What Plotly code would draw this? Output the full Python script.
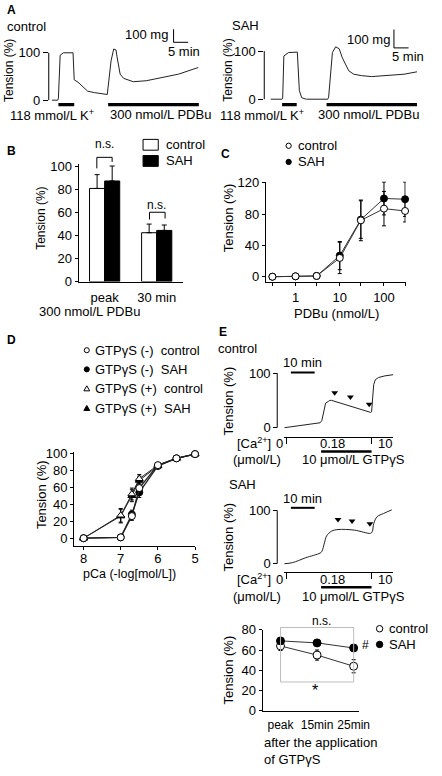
import plotly.graph_objects as go

W, H = 442, 776
FONT = "Liberation Sans, Arial, Helvetica, sans-serif"

# ---------------- data ----------------
# Panel A: isometric tension traces (time in min, tension in %)
A_ctrl_time = [1.1, 3.1, 3.3, 3.9, 5.0, 8.3, 8.7, 10.0, 13.3, 15.6, 20.0, 20.6, 21.3, 22.2,
               23.0, 23.3, 24.4, 25.6, 28.9, 33.3, 38.9, 44.4, 51.1]
A_ctrl_tension = [0, 0, 4, 95, 100, 100, 43, 38, 19, 16, 12, 41, 83, 108,
                  106, 93, 55, 46, 39, 41, 48, 55, 69]
A_sah_time = [2.2, 6.1, 6.3, 6.7, 8.3, 11.1, 11.3, 12.0, 12.8, 14.4, 21.7, 22.0, 23.3, 24.4,
              25.6, 26.7, 27.8, 28.3, 28.9, 30.6, 33.3, 36.7, 42.2, 47.8, 52.2]
A_sah_tension = [0, 0, 2, 90, 97, 99, 98, 18, 3, 0, 0, 4, 97, 109,
                 105, 86, 73, 68, 59, 52, 49, 47, 49, 52, 57]
A_ctrl_K = [3.3, 8.7]
A_ctrl_PDBu = [20.3, 51.3]
A_sah_K = [6.1, 11.1]
A_sah_PDBu = [21.3, 52.2]
A_yticks = [0, 100]

# Panel B: peak / 30 min response to 300 nmol/L PDBu
B_categories = ["peak", "30 min"]
B_control = [81, 42.5]
B_control_err = [12, 7.5]
B_sah = [87.5, 44.5]
B_sah_err = [13, 4.7]
B_yticks = [0, 20, 40, 60, 80, 100]

# Panel C: PDBu concentration-response
C_conc = [0.3, 1, 3, 10, 30, 100, 300]
C_control = [0, 0.5, 1, 24, 72, 87, 84]
C_control_err = [0, 0, 0, 20, 26, 22, 14]
C_sah = [0, 0.5, 1, 27, 73, 100, 99]
C_sah_err = [0, 0, 0, 18, 24, 21, 22]
C_xticks = [1, 10, 100]
C_xminor = [0.3, 3, 30, 300]
C_yticks = [0, 40, 80, 120]

# Panel D: pCa-tension relationship
D_pCa = [8, 7, 6.7, 6.5, 6, 5.5, 5]
D_minus_control = [0, 1, 26, 59, 86, 94, 99]
D_minus_control_err = [0, 0, 5, 6, 2, 1, 0]
D_minus_sah = [0, 1, 28, 54, 85, 94, 99]
D_minus_sah_err = [0, 0, 5, 6, 2, 1, 0]
D_plus_control = [0, 27, 52, 70, 86, 94, 99]
D_plus_control_err = [0, 8, 7, 5, 2, 1, 0]
D_plus_sah = [0, 26, 50, 68, 85, 94, 99]
D_plus_sah_err = [0, 8, 7, 5, 2, 1, 0]
D_xticks = [8, 7, 6, 5]
D_yticks = [0, 20, 40, 60, 80, 100]

# Panel E: GTPgammaS traces (time in min, tension in %)
E_ctrl_time = [0.3, 4.1, 7.8, 11.9, 15.3, 16.0, 16.8, 17.6, 18.7, 19.4, 20.1, 28.3, 36.5,
               36.9, 37.4, 37.8, 38.5, 39.9, 42.6, 46.0]
E_ctrl_tension = [0, 2, 4.5, 7, 9, 13, 30, 45, 48, 50, 50, 39, 28,
                  29, 65, 79, 88, 92, 95, 97]
E_ctrl_arrow_time = [21.4, 28.0, 35.9]
E_ctrl_arrow_tension = [64, 56, 43]
E_sah_time = [0.3, 3.7, 9.1, 15.3, 16.0, 17.1, 18.0, 20.1, 22.8, 29.6, 36.5, 37.2, 37.8,
              39.2, 41.9, 45.4]
E_sah_tension = [0, 2, 11, 20, 23, 39, 52, 61, 64, 63, 57, 60, 75,
                 88, 94, 101]
E_sah_arrow_time = [22.8, 28.7, 36.2]
E_sah_arrow_tension = [83, 80, 75]
E_ca_change = [1.2, 36.9]
E_ca_labels = ["0", "0.18", "10"]
E_gtp = [15.7, 36.9]
E_trace_yticks = [0, 100]

# Panel E (bottom): tension after GTPgammaS application
E_time_cats = ["peak", "15min", "25min"]
E_ctrl_mean = [64, 55, 44]
E_ctrl_err = [4.5, 5, 6.5]
E_sah_mean = [69, 67, 62]
E_sah_err = [2, 2, 2.5]
E_yticks = [0, 20, 40, 60, 80]


# ---------------- helpers (pixel -> paper) ----------------
def X(x):
    return x / W


def Y(y):
    return 1 - y / H


def xdom(a, b):
    return [X(a), X(b)]


def ydom(top, bottom):
    return [Y(bottom), Y(top)]


shapes = []
annotations = []


def line_px(x0, y0, x1, y1, width=1, color="black"):
    shapes.append(dict(type="line", xref="paper", yref="paper", x0=X(x0), y0=Y(y0),
                       x1=X(x1), y1=Y(y1), line=dict(color=color, width=width)))


def rect_px(x0, y0, x1, y1, fill, lc="black", width=1):
    shapes.append(dict(type="rect", xref="paper", yref="paper", x0=X(x0), y0=Y(y0),
                       x1=X(x1), y1=Y(y1), fillcolor=fill, line=dict(color=lc, width=width)))


def circle_px(cx, cy, r, fill):
    shapes.append(dict(type="circle", xref="paper", yref="paper", x0=X(cx - r), y0=Y(cy + r),
                       x1=X(cx + r), y1=Y(cy - r), fillcolor=fill,
                       line=dict(color="black", width=1)))


def tri_px(cx, cy, s, fill):
    p = "M {},{} L {},{} L {},{} Z".format(X(cx - s), Y(cy + s * 0.8), X(cx + s), Y(cy + s * 0.8),
                                            X(cx), Y(cy - s * 0.9))
    shapes.append(dict(type="path", xref="paper", yref="paper", path=p, fillcolor=fill,
                       line=dict(color="black", width=1)))


def stim_bar(xref, t, ypx, thick):
    shapes.append(dict(type="rect", xref=xref, yref="paper", x0=t[0], x1=t[1],
                       y0=Y(ypx + thick / 2), y1=Y(ypx - thick / 2), fillcolor="black",
                       line=dict(width=0)))


def text_px(x, y, text, size=13, xanchor="center", yanchor="middle", angle=0, bold=False):
    if bold:
        text = "<b>" + text + "</b>"
    annotations.append(dict(x=X(x), y=Y(y), xref="paper", yref="paper", text=text,
                            showarrow=False, xanchor=xanchor, yanchor=yanchor,
                            textangle=angle, borderpad=0,
                            font=dict(size=size, family=FONT, color="black")))


# ---------------- traces ----------------
fig = go.Figure()
trace_line = dict(color="#222222", width=1)

# A
fig.add_trace(go.Scatter(x=A_ctrl_time, y=A_ctrl_tension, mode="lines", line=trace_line,
                         xaxis="x", yaxis="y", showlegend=False))
fig.add_trace(go.Scatter(x=A_sah_time, y=A_sah_tension, mode="lines", line=trace_line,
                         xaxis="x2", yaxis="y2", showlegend=False))

# B
err_kw = dict(type="data", symmetric=False, color="black", thickness=1, width=2.5)
fig.add_trace(go.Bar(x=B_categories, y=B_control, name="control",
                     marker=dict(color="white", line=dict(color="black", width=1)),
                     error_y=dict(array=B_control_err, arrayminus=[0, 0], **err_kw),
                     xaxis="x3", yaxis="y3", showlegend=False))
fig.add_trace(go.Bar(x=B_categories, y=B_sah, name="SAH",
                     marker=dict(color="black", line=dict(color="black", width=1)),
                     error_y=dict(array=B_sah_err, arrayminus=[0, 0], **err_kw),
                     xaxis="x3", yaxis="y3", showlegend=False))

# C
errs = dict(type="data", color="black", thickness=1, width=2)
open_m = dict(symbol="circle", size=7, color="white", line=dict(color="black", width=1))
fill_m = dict(symbol="circle", size=7, color="black", line=dict(color="black", width=1))
thin = dict(color="#333333", width=1)
fig.add_trace(go.Scatter(x=C_conc, y=C_sah, mode="lines+markers", marker=fill_m, line=thin,
                         error_y=dict(array=C_sah_err, **errs), cliponaxis=False,
                         xaxis="x4", yaxis="y4", showlegend=False))
fig.add_trace(go.Scatter(x=C_conc, y=C_control, mode="lines+markers", marker=open_m, line=thin,
                         error_y=dict(array=C_control_err, **errs), cliponaxis=False,
                         xaxis="x4", yaxis="y4", showlegend=False))

# D
otri = dict(symbol="triangle-up", size=7, color="white", line=dict(color="black", width=1))
ftri = dict(symbol="triangle-up", size=7, color="black", line=dict(color="black", width=1))
for yv, ev, mk, lw in [(D_plus_sah, D_plus_sah_err, ftri, 1),
                       (D_plus_control, D_plus_control_err, otri, 1),
                       (D_minus_sah, D_minus_sah_err, fill_m, 1.3),
                       (D_minus_control, D_minus_control_err, open_m, 1.3)]:
    fig.add_trace(go.Scatter(x=D_pCa, y=yv, mode="lines+markers", marker=mk,
                             line=dict(color="#222222", width=lw),
                             error_y=dict(array=ev, **errs), cliponaxis=False,
                             xaxis="x5", yaxis="y5", showlegend=False))

# E traces
fig.add_trace(go.Scatter(x=E_ctrl_time, y=E_ctrl_tension, mode="lines", line=trace_line,
                         xaxis="x6", yaxis="y6", showlegend=False))
fig.add_trace(go.Scatter(x=E_ctrl_arrow_time, y=E_ctrl_arrow_tension, mode="markers",
                         marker=dict(symbol="triangle-down", size=6, color="black"),
                         xaxis="x6", yaxis="y6", showlegend=False))
fig.add_trace(go.Scatter(x=E_sah_time, y=E_sah_tension, mode="lines", line=trace_line,
                         line_shape="spline", xaxis="x7", yaxis="y7", showlegend=False))
fig.add_trace(go.Scatter(x=E_sah_arrow_time, y=E_sah_arrow_tension, mode="markers",
                         marker=dict(symbol="triangle-down", size=6, color="black"),
                         xaxis="x7", yaxis="y7", showlegend=False))

# E bottom
xi = list(range(len(E_time_cats)))
em_open = dict(symbol="circle", size=8, color="white", line=dict(color="black", width=1))
em_fill = dict(symbol="circle", size=8, color="black", line=dict(color="black", width=1))
fig.add_trace(go.Scatter(x=xi, y=E_ctrl_mean, mode="lines+markers", marker=em_open, line=thin,
                         error_y=dict(array=E_ctrl_err, **errs), cliponaxis=False,
                         xaxis="x8", yaxis="y8", showlegend=False))
fig.add_trace(go.Scatter(x=xi, y=E_sah_mean, mode="lines+markers", marker=em_fill, line=thin,
                         error_y=dict(array=E_sah_err, **errs), cliponaxis=False,
                         xaxis="x8", yaxis="y8", showlegend=False))

# ---------------- axes ----------------
base = dict(showgrid=False, zeroline=False, linecolor="black", linewidth=1, tickcolor="black",
            tickwidth=1, ticklen=3, tickfont=dict(size=13, family=FONT, color="black"))

layout_axes = dict(
    xaxis=dict(base, domain=xdom(50, 206), range=[0, 52], visible=False),
    yaxis=dict(base, domain=ydom(38, 97), range=[-4.1, 118], anchor="x", showline=False,
               tickvals=A_yticks, ticks="outside", ticklen=5),
    xaxis2=dict(base, domain=xdom(271, 430), range=[0, 53], visible=False, anchor="y2"),
    yaxis2=dict(base, domain=ydom(38, 97), range=[-6.1, 114.3], anchor="x2", showline=False,
                tickvals=A_yticks, ticks="outside", ticklen=5),
    xaxis3=dict(base, domain=xdom(80.6, 187.4), type="category", range=[-0.5, 1.5],
                showline=True, ticks="", anchor="y3", tickangle=0, ticklabelstandoff=4),
    yaxis3=dict(base, domain=ydom(160.4, 280), range=[0, 102], anchor="x3", showline=True,
                tickvals=B_yticks, ticks="outside"),
    xaxis4=dict(base, domain=xdom(272.7, 416), type="log", range=[-0.67, 2.49], anchor="y4",
                showline=True, tickvals=C_xticks, ticktext=[str(v) for v in C_xticks],
                ticks="outside", tickangle=0, ticklabelstandoff=0,
                minor=dict(tickvals=C_xminor, ticks="outside", ticklen=3, tickcolor="black",
                           showgrid=False)),
    yaxis4=dict(base, domain=ydom(178, 280.7), range=[-7.1, 121.6], anchor="x4",
                showline=True, tickvals=C_yticks, ticks="outside"),
    xaxis5=dict(base, domain=xdom(76, 200), range=[8.255, 5.0], anchor="y5", showline=True,
                tickvals=D_xticks, ticks="outside", tickangle=0, ticklabelstandoff=-3),
    yaxis5=dict(base, domain=ydom(454, 550), range=[-9.6, 101.2], anchor="x5", showline=True,
                tickvals=D_yticks, ticks="outside"),
    xaxis6=dict(base, domain=xdom(291, 403.5), range=[0, 46.1], anchor="y6", showline=True,
                tickvals=E_ca_change, showticklabels=False, ticks="outside", ticklen=6),
    yaxis6=dict(base, domain=ydom(365, 438), range=[-16.2, 114.9], anchor="free",
                position=X(284.3), showline=False, tickvals=E_trace_yticks,
                ticks="outside", ticklen=4),
    xaxis7=dict(base, domain=xdom(291, 403.5), range=[0, 46.1], anchor="y7", showline=True,
                tickvals=E_ca_change, showticklabels=False, ticks="outside", ticklen=6),
    yaxis7=dict(base, domain=ydom(505, 576), range=[-15.3, 115.2], anchor="free",
                position=X(284.3), showline=False, tickvals=E_trace_yticks, ticks="outside",
                ticklen=4),
    xaxis8=dict(base, domain=xdom(269.3, 368.3), range=[-0.49, 2.15], anchor="y8",
                showline=True, tickvals=xi, ticktext=E_time_cats, ticks="", tickangle=0,
                ticklabelstandoff=3, tickfont=dict(size=12, family=FONT, color="black")),
    yaxis8=dict(base, domain=ydom(635, 717.7), range=[0, 80], anchor="x8", showline=True,
                tickvals=E_yticks, ticks="outside"),
)

# ---------------- decorations ----------------
# A: y axis lines (0-100)
for yr, xp in [("y", 50), ("y2", 271)]:
    shapes.append(dict(type="line", xref="paper", yref=yr, x0=X(xp), x1=X(xp), y0=0, y1=100,
                       line=dict(color="black", width=1)))
# A: stimulation bars
stim_bar("x", A_ctrl_K, 99.5, 3.3)
stim_bar("x", A_ctrl_PDBu, 99.5, 3.3)
stim_bar("x2", A_sah_K, 99.5, 3.3)
stim_bar("x2", A_sah_PDBu, 99.5, 3.3)
# A: scale bars
line_px(178, 22.7, 178, 36)
line_px(178, 36, 193, 36)
line_px(404, 23, 404, 41.7)
line_px(404, 41.7, 419, 41.7)
text_px(6, 3.5, "A", size=12, xanchor="left", bold=True)
text_px(6, 19.5, "control", xanchor="left")
text_px(237, 18.5, "SAH", xanchor="left")
text_px(173, 28.5, "100 mg", xanchor="right")
text_px(189, 45, "5 min")
text_px(401, 33.5, "100 mg", xanchor="right")
text_px(418.5, 50.5, "5 min")
text_px(10, 64.5, "Tension (%)", size=12, angle=-90)
text_px(234.3, 64.5, "Tension (%)", size=12, angle=-90)
text_px(53, 110, "118 mmol/L K<sup>+</sup>")
text_px(165, 110, "300 nmol/L PDBu")
text_px(269, 110, "118 mmol/L K<sup>+</sup>")
text_px(378, 110, "300 nmol/L PDBu")

# B
text_px(6, 147, "B", size=12, xanchor="left", bold=True)
text_px(42, 215, "Tension (%)", size=12, angle=-90)
text_px(92, 310, "300 nmol/L PDBu")
rect_px(146.7, 135, 162.3, 146, "white")
rect_px(146.7, 151.5, 162.3, 162.5, "black")
text_px(169, 140.5, "control", xanchor="left")
text_px(169, 157, "SAH", xanchor="left")
# n.s. brackets
line_px(99.3, 164.5, 99.3, 153.3)
line_px(99.3, 153.3, 115, 153.3)
line_px(115, 153.3, 115, 158)
text_px(107, 140, "n.s.", size=12)
line_px(153.3, 216.7, 153.3, 209.3)
line_px(153.3, 209.3, 169.3, 209.3)
line_px(169.3, 209.3, 169.3, 215.7)
text_px(161, 201.5, "n.s.", size=12)

# C
text_px(226, 150, "C", size=12, xanchor="left", bold=True)
circle_px(296, 141.5, 2.7, "white")
circle_px(296, 158, 2.7, "black")
text_px(305, 141.5, "control", xanchor="left")
text_px(305, 158, "SAH", xanchor="left")
text_px(234.3, 215, "Tension (%)", angle=-90)
text_px(345, 313, "PDBu (nmol/L)")

# D
text_px(6, 340, "D", size=12, xanchor="left", bold=True)
d_rows = [350, 369.5, 389, 409]
circle_px(89, d_rows[0], 2.6, "white")
circle_px(89, d_rows[1], 2.6, "black")
tri_px(89, d_rows[2], 3, "white")
tri_px(89, d_rows[3], 3, "black")
d_labels = ["GTP\u03b3S (-)\u00a0\u00a0control", "GTP\u03b3S (-)\u00a0\u00a0SAH",
            "GTP\u03b3S (+)\u00a0\u00a0control", "GTP\u03b3S (+)\u00a0\u00a0SAH"]
for yy, lab in zip(d_rows, d_labels):
    text_px(96.5, yy, lab, xanchor="left")
text_px(43.3, 497.5, "Tension (%)", angle=-90)
text_px(133, 578, "pCa (-log[mol/L])", size=12.5)

# E traces
text_px(224, 331.5, "E", size=12, xanchor="left", bold=True)
text_px(223, 348.5, "control", xanchor="left")
text_px(233.5, 486.5, "SAH", xanchor="left")
for yr in ["y6", "y7"]:
    shapes.append(dict(type="line", xref="paper", yref=yr, x0=X(284.3), x1=X(284.3), y0=0,
                       y1=100, line=dict(color="black", width=1)))
# 10 min scale bars
line_px(298.3, 372.7, 322.7, 372.7, width=2)
text_px(310.5, 362, "10 min")
line_px(298.3, 510.7, 322.7, 510.7, width=2)
text_px(310.5, 501, "10 min")
# GTPgammaS bars
stim_bar("x6", E_gtp, 453.3, 2.7)
stim_bar("x7", E_gtp, 591.7, 2.7)
for ylab, ymu in [(445, 461), (583.5, 601)]:
    text_px(260, ylab, "[Ca<sup>2+</sup>]")
    text_px(286.7, ylab, E_ca_labels[0])
    text_px(341, ylab, E_ca_labels[1])
    text_px(395, ylab, E_ca_labels[2])
    text_px(263.5, ymu, "(\u03bcmol/L)")
    text_px(362.5, ymu, "10 \u03bcmol/L GTP\u03b3S")
text_px(234.3, 401.7, "Tension (%)", angle=-90)
text_px(234.3, 540.5, "Tension (%)", angle=-90)

# E bottom
rect_px(287.7, 632.7, 362.7, 688.3, "rgba(0,0,0,0)", lc="#bdbdbd", width=1)
text_px(329.3, 626, "n.s.", size=12)
text_px(322.7, 697, "*", size=16)
text_px(370, 651, "#", size=12, xanchor="left")
circle_px(389.3, 634, 3.3, "white")
circle_px(389.3, 650, 3.3, "black")
text_px(397.7, 634, "control", xanchor="left")
text_px(397.7, 650, "SAH", xanchor="left")
text_px(234.3, 676, "Tension (%)", angle=-90)
text_px(269.3, 750, "after the application", xanchor="left")
text_px(269.3, 767, "of GTP\u03b3S", xanchor="left")

fig.update_layout(
    width=W, height=H, autosize=False,
    margin=dict(l=0, r=0, t=0, b=0),
    paper_bgcolor="white", plot_bgcolor="white",
    font=dict(family=FONT, size=13, color="black"),
    barmode="group", bargap=0.42, bargroupgap=0,
    showlegend=False, hovermode=False,
    shapes=shapes, annotations=annotations,
    **layout_axes,
)

fig.write_html(
    "out.html",
    config={"displayModeBar": False, "staticPlot": True},
    post_script="document.body.style.margin='0';document.body.style.padding='0';"
                "document.body.style.overflow='hidden';",
)
